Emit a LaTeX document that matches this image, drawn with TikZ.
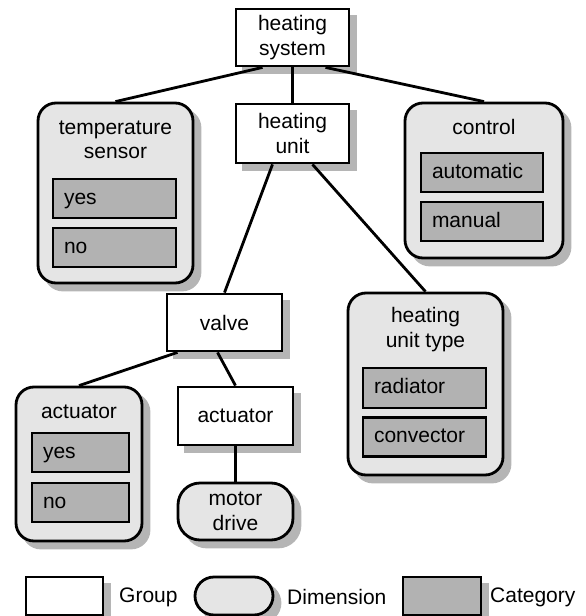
\documentclass[tikz,border=0pt]{standalone}
\usepackage{fontspec}
\setmainfont{Liberation Sans}
\usetikzlibrary{calc}
\colorlet{dimfill}{black!10}
\colorlet{catfill}{black!30}
\colorlet{shadowgray}{black!29}
\begin{document}
\begin{tikzpicture}[x=1pt,y=-1pt,
  every node/.style={font=\fontsize{21}{24.5}\selectfont, inner sep=0pt},
  groupbox/.style={draw, line width=2.8pt, fill=white, align=center},
  dimbox/.style={draw, line width=2.8pt, fill=dimfill, rounded corners=18pt, align=center},
  catbox/.style={draw, line width=2.8pt, fill=catfill, minimum height=39pt, inner xsep=11pt,
    text height=13pt, text depth=2pt, align=left},
  catlegend/.style={draw, line width=2.8pt, fill=catfill},
  dimtitle/.style={align=center},
  shadownode/.style={fill=shadowgray, draw=shadowgray, line width=2.8pt},
  connector/.style={line width=2.8pt}]
\useasboundingbox (0,0) rectangle (586,616);

% drop shadows, 7pt right and down of each outer shape
\node[shadownode, minimum width=113, minimum height=57] (hs-sh) at (299.5,44.5) {};
\node[shadownode, minimum width=113, minimum height=59] (hu-sh) at (299.5,140.5) {};
\node[shadownode, minimum width=115, minimum height=57] (valve-sh) at (231.5,329.5) {};
\node[shadownode, minimum width=115, minimum height=58] (actg-sh) at (242.5,423) {};
\node[shadownode, rounded corners=18pt, minimum width=155, minimum height=180] (ts-sh) at (122.5,200) {};
\node[shadownode, rounded corners=18pt, minimum width=158, minimum height=155] (ctrl-sh) at (491,187.5) {};
\node[shadownode, rounded corners=18pt, minimum width=155, minimum height=182] (hut-sh) at (432.5,391) {};
\node[shadownode, rounded corners=18pt, minimum width=126, minimum height=154] (actd-sh) at (86,471) {};
\node[shadownode, rounded corners=22pt, minimum width=115, minimum height=57] (motor-sh) at (242.5,518.5) {};
\node[shadownode, minimum width=77, minimum height=38] (lg-group-sh) at (71.5,603) {};
\node[shadownode, rounded corners=19pt, minimum width=78, minimum height=38] (lg-dim-sh) at (241,603) {};
\node[shadownode, minimum width=78, minimum height=38] (lg-cat-sh) at (449,603) {};

% groups
\node[groupbox, minimum width=113, minimum height=57] (hs) at (292.5,37.5) {heating\\system};
\node[groupbox, minimum width=113, minimum height=59] (hu) at (292.5,133.5) {heating\\unit};
\node[groupbox, minimum width=115, minimum height=57] (valve) at (224.5,322.5) {valve};
\node[groupbox, minimum width=115, minimum height=58] (actg) at (235.5,416) {actuator};

% dimension: temperature sensor
\node[dimbox, minimum width=155, minimum height=180] (ts) at (115.5,193) {};
\node[dimtitle] (ts-title) at (115.5,140) {temperature\\sensor};
\node[catbox, text width=101pt] (ts-yes) at (114.5,198.5) {yes};
\node[catbox, text width=101pt] (ts-no) at (114.5,247.5) {no};

% dimension: control
\node[dimbox, minimum width=158, minimum height=155] (ctrl) at (484,180.5) {};
\node[dimtitle] (ctrl-title) at (484,127) {control};
\node[catbox, text width=100pt] (ctrl-auto) at (482,172.5) {automatic};
\node[catbox, text width=100pt] (ctrl-man) at (482,221.5) {manual};

% dimension: heating unit type
\node[dimbox, minimum width=155, minimum height=182] (hut) at (425.5,384) {};
\node[dimtitle] (hut-title) at (425.5,329.5) {heating\\unit type};
\node[catbox, text width=101pt, minimum height=40] (hut-rad) at (424.5,388) {radiator};
\node[catbox, text width=101pt] (hut-conv) at (424.5,437) {convector};

% dimension: actuator
\node[dimbox, minimum width=126, minimum height=154] (actd) at (79,464) {};
\node[dimtitle] (actd-title) at (79,412) {actuator};
\node[catbox, text width=75pt] (actd-yes) at (80.5,452.5) {yes};
\node[catbox, text width=75pt] (actd-no) at (80.5,502.5) {no};

% dimension: motor drive
\node[dimbox, rounded corners=22pt, minimum width=115, minimum height=57] (motor) at (235.5,511.5) {motor\\drive};

% legend
\node[groupbox, minimum width=77, minimum height=38] (lg-group) at (64.5,596) {};
\node[anchor=west] (lg-group-text) at (119,597) {Group};
\node[dimbox, rounded corners=19pt, minimum width=78, minimum height=38] (lg-dim) at (234,596) {};
\node[anchor=west] (lg-dim-text) at (287,597) {Dimension};
\node[catlegend, minimum width=78, minimum height=38] (lg-cat) at (442,596) {};
\node[anchor=west] (lg-cat-text) at (490,597) {Category};

% connectors
\draw[connector] ($(hs.south)+(-30,0)$) -- (ts.north);
\draw[connector] (hs.south) -- (hu.north);
\draw[connector] ($(hs.south)+(33,0)$) -- (ctrl.north);
\draw[connector] ($(hu.south)+(-20,0)$) -- (valve.north);
\draw[connector] ($(hu.south)+(20,0)$) -- (hut.north);
\draw[connector] ($(valve.south)+(-47,0)$) -- (actd.north);
\draw[connector] ($(valve.south)+(-7,0)$) -- (actg.north);
\draw[connector] (actg.south) -- (motor.north);
\end{tikzpicture}
\end{document}
